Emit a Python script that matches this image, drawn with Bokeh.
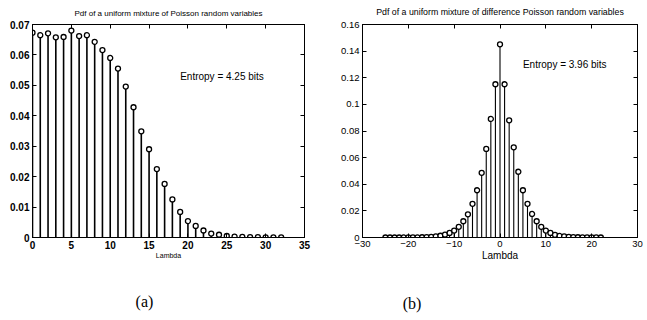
from bokeh.plotting import figure
from bokeh.layouts import row
from bokeh.models import LinearAxis, FixedTicker, Label
from bokeh.embed import file_html
from bokeh.resources import INLINE

# ---- data (a) ----
lam_a = list(range(33))
pdf_a = [0.0673, 0.0665, 0.0671, 0.0658, 0.0659, 0.0680, 0.0662, 0.0665, 0.0643,
         0.0616, 0.0590, 0.0555, 0.0496, 0.0428, 0.0349, 0.0290, 0.0225, 0.0176,
         0.0125, 0.0084, 0.0054, 0.0038, 0.0023, 0.0013, 0.0009, 0.0005, 0.0003,
         0.0002, 0.0001, 0.0001, 0.00005, 0.00003, 0.00002]
xticks_a = [0, 5, 10, 15, 20, 25, 30, 35]
xlabels_a = ["0", "5", "10", "15", "20", "25", "30", "35"]
yticks_a = [0, 0.01, 0.02, 0.03, 0.04, 0.05, 0.06, 0.07]
ylabels_a = ["0", "0.01", "0.02", "0.03", "0.04", "0.05", "0.06", "0.07"]

# ---- data (b) ----
lam_b = list(range(-25, 23))
pdf_b = [0.000003, 0.000005, 0.00001, 0.00001, 0.00002, 0.00004, 0.00006, 0.0001,
         0.0002, 0.0003, 0.0005, 0.0008, 0.0013, 0.0022, 0.0034, 0.0052, 0.0080,
         0.0122, 0.0174, 0.0253, 0.0355, 0.0486, 0.0665, 0.0891, 0.1151, 0.1451,
         0.1151, 0.0880, 0.0677, 0.0494, 0.0355, 0.0253, 0.0177, 0.0122, 0.0080,
         0.0052, 0.0034, 0.0020, 0.0012, 0.0008, 0.0005, 0.0003, 0.0002, 0.0001,
         0.00006, 0.00004, 0.00002, 0.00001]
xticks_b = [-30, -20, -10, 0, 10, 20, 30]
xlabels_b = ["\u221230", "\u221220", "\u221210", "0", "10", "20", "30"]
yticks_b = [0, 0.02, 0.04, 0.06, 0.08, 0.1, 0.12, 0.14, 0.16]
ylabels_b = ["0", "0.02", "0.04", "0.06", "0.08", "0.1", "0.12", "0.14", "0.16"]

FONT = "Liberation Sans"
NBSP = "\u00a0"


def style(p, xt, xl, yt, yl, bold, tick_size, xlabel_size, title, title_size, title_standoff):
    p.xgrid.visible = False
    p.ygrid.visible = False
    p.outline_line_color = "black"
    p.outline_line_width = 1
    xa, ya = p.xaxis[0], p.yaxis[0]
    for ax, t, l in ((xa, xt, xl), (ya, yt, yl)):
        ax.ticker = FixedTicker(ticks=t)
        ax.major_label_overrides = {v: s for v, s in zip(t, l)}
        ax.major_tick_in = 4
        ax.major_tick_out = 0
        ax.minor_tick_line_color = None
        ax.axis_line_color = "black"
        ax.major_label_text_font = FONT
        ax.major_label_text_font_size = tick_size
        ax.major_label_text_font_style = "bold" if bold else "normal"
        ax.major_label_text_color = "black"
        ax.major_label_standoff = 3
    xa.axis_label = "Lambda"
    xa.axis_label_text_font = FONT
    xa.axis_label_text_font_size = xlabel_size
    xa.axis_label_text_font_style = "normal"
    xa.axis_label_text_color = "black"
    xa.axis_label_standoff = 0
    top = LinearAxis(ticker=FixedTicker(ticks=xt), major_tick_in=4, major_tick_out=0,
                     minor_tick_line_color=None, major_label_text_alpha=0,
                     major_label_text_font_size="1px", major_label_standoff=0,
                     axis_label=title, axis_label_text_font=FONT,
                     axis_label_text_font_size=title_size, axis_label_text_font_style="normal",
                     axis_label_text_color="black", axis_label_standoff=title_standoff)
    p.add_layout(top, "above")
    right = LinearAxis(ticker=FixedTicker(ticks=yt), major_tick_in=4, major_tick_out=0,
                       minor_tick_line_color=None, major_label_text_alpha=0,
                       major_label_text_font_size="1px", major_label_standoff=0)
    p.add_layout(right, "right")


def caption(p, text, pad, standoff):
    # trailing no-break spaces shift the centred caption to the left
    cap = LinearAxis(ticker=FixedTicker(ticks=[]),
                     axis_line_color=None, major_tick_line_color=None,
                     minor_tick_line_color=None, major_label_text_alpha=0,
                     major_label_text_font_size="1px", major_label_standoff=0,
                     axis_label=text + NBSP * pad, axis_label_text_font="Liberation Serif",
                     axis_label_text_font_size="16px", axis_label_text_font_style="normal",
                     axis_label_text_color="black", axis_label_standoff=standoff)
    p.add_layout(cap, "below")


def label(p, x, y, text, size):
    p.add_layout(Label(x=x, y=y, text=text, text_font=FONT, text_font_size=size,
                       text_baseline="middle", text_color="black"))


# ---- figure (a) ----
p1 = figure(width=316, height=320, x_range=(0, 35), y_range=(0, 0.07),
            output_backend="svg", toolbar_location=None,
            min_border_left=32, min_border_right=12, min_border_top=24, min_border_bottom=81)
style(p1, xticks_a, xlabels_a, yticks_a, ylabels_a, True, "10px", "7px",
      "Pdf of a uniform mixture of Poisson random variables", "8px", 7)
caption(p1, "(a)", 12, 31)
p1.segment(x0=lam_a, y0=[0] * len(lam_a), x1=lam_a, y1=pdf_a, line_color="black", line_width=1.6)
p1.scatter(lam_a, pdf_a, marker="circle", size=5, fill_color="white", line_color="black", line_width=1.3)
label(p1, 19.0, 0.0528, "Entropy = 4.25 bits", "10px")

# ---- figure (b) ----
p2 = figure(width=331, height=320, x_range=(-30, 30), y_range=(0, 0.16),
            output_backend="svg", toolbar_location=None,
            min_border_left=46, min_border_right=10, min_border_top=22, min_border_bottom=83)
style(p2, xticks_b, xlabels_b, yticks_b, ylabels_b, False, "9.5px", "10px",
      "Pdf of a uniform mixture of difference Poisson random variables", "8.8px", 8)
caption(p2, "(b)", 44, 31)
p2.segment(x0=lam_b, y0=[0] * len(lam_b), x1=lam_b, y1=pdf_b, line_color="black", line_width=1.1)
p2.scatter(lam_b, pdf_b, marker="circle", size=5, fill_color="white", line_color="black", line_width=1.3)
label(p2, 5.0, 0.130, "Entropy = 3.96 bits", "10px")

layout = row(p1, p2)
open("out.html", "w").write(file_html(layout, INLINE))
